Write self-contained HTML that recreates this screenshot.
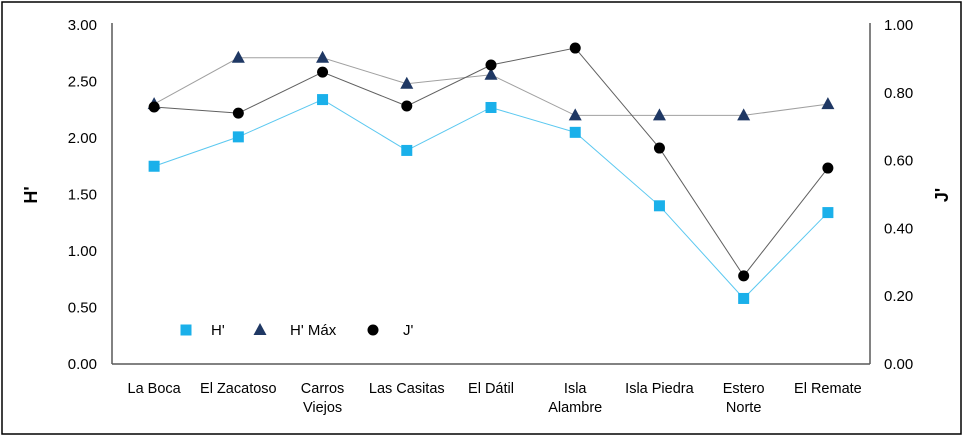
<!DOCTYPE html>
<html><head><meta charset="utf-8"><style>
body{margin:0;background:#fff}
svg{display:block;font-family:"Liberation Sans",sans-serif}
</style></head><body>
<svg id="c" width="964" height="438">
<rect x="2" y="2" width="959" height="432" fill="#fff" stroke="#000" stroke-width="1.5"/>
</svg>
<script>
const categories=[["La Boca"],["El Zacatoso"],["Carros","Viejos"],["Las Casitas"],["El Dátil"],["Isla","Alambre"],["Isla Piedra"],["Estero","Norte"],["El Remate"]];
const hValues=[1.75,2.01,2.34,1.89,2.27,2.05,1.40,0.58,1.34];
const hMaxValues=[2.30,2.71,2.71,2.48,2.56,2.20,2.20,2.20,2.30];
const jValues=[0.758,0.74,0.861,0.761,0.882,0.932,0.637,0.26,0.578];
const leftTicks=[0,0.5,1,1.5,2,2.5,3];
const rightTicks=[0,0.2,0.4,0.6,0.8,1];
const NS="http://www.w3.org/2000/svg",svg=document.getElementById('c');
const X0=112,X1=870,Y0=364,Y1=25;
const xs=i=>X0+(X1-X0)/categories.length*(i+0.5);
const yL=v=>Y0-(v/3)*(Y0-Y1);
const yR=v=>Y0-v*(Y0-Y1);
function el(t,a,p){const e=document.createElementNS(NS,t);for(const k in a)e.setAttribute(k,a[k]);(p||svg).appendChild(e);return e;}
let e;
e=el('line',{x1:X0,y1:Y1-2,x2:X0,y2:Y0,stroke:'#595959','stroke-width':1.5});


e=el('line',{x1:X1,y1:Y1-2,x2:X1,y2:Y0,stroke:'#595959','stroke-width':1.5});


e=el('line',{x1:X0,y1:Y0,x2:X1,y2:Y0,stroke:'#595959','stroke-width':1.5});


leftTicks.forEach(v=>{e=el('text',{x:97,y:yL(v)+5,'text-anchor':'end','font-size':15,fill:'#000'});e.textContent=v.toFixed(2);

});
rightTicks.forEach(v=>{e=el('text',{x:884,y:yR(v)+5,'font-size':15,fill:'#000'});e.textContent=v.toFixed(2);

});
categories.forEach((c,i)=>{c.forEach((s,j)=>{e=el('text',{x:xs(i),y:393+j*19,'text-anchor':'middle','font-size':14.5,fill:'#000'});e.textContent=s;

});});
e=el('text',{x:0,y:0,transform:'translate(37,195) rotate(-90)','text-anchor':'middle','font-size':18,'font-weight':'bold'});e.textContent="H'";


e=el('text',{x:0,y:0,transform:'translate(948,195) rotate(-90)','text-anchor':'middle','font-size':18,'font-weight':'bold'});e.textContent="J'";


function series(vals,yf,color,lw,marker,mcolor,name){
 e=el('polyline',{points:vals.map((v,i)=>xs(i)+','+yf(v)).join(' '),fill:'none',stroke:color,'stroke-width':lw});
 
 
 vals.forEach((v,i)=>{e=drawMarker(marker,xs(i),yf(v),mcolor);
 
 });
}
function drawMarker(m,x,y,c){
 if(m==='sq')return el('rect',{x:x-5.5,y:y-5.5,width:11,height:11,fill:c});
 if(m==='tri')return el('polygon',{points:`${x},${y-7} ${x+6.5},${y+5} ${x-6.5},${y+5}`,fill:c});
 return el('circle',{cx:x,cy:y,r:5.5,fill:c});
}
series(hMaxValues,yL,'#a0a0a0',1,'tri','#1f3864','h-max');
series(jValues,yR,'#606060',1,'circ','#000','j');
series(hValues,yL,'#5bc8f0',1,'sq','#1ab0ea','h');
const leg=[['sq','#1ab0ea',186,"H'",211],['tri','#1f3864',260,"H' Máx",290],['circ','#000',373,"J'",403]];
leg.forEach(l=>{e=drawMarker(l[0],l[2],330,l[1]);


e=el('text',{x:l[4],y:335,'font-size':15});e.textContent=l[3];

});
</script>
</body></html>
